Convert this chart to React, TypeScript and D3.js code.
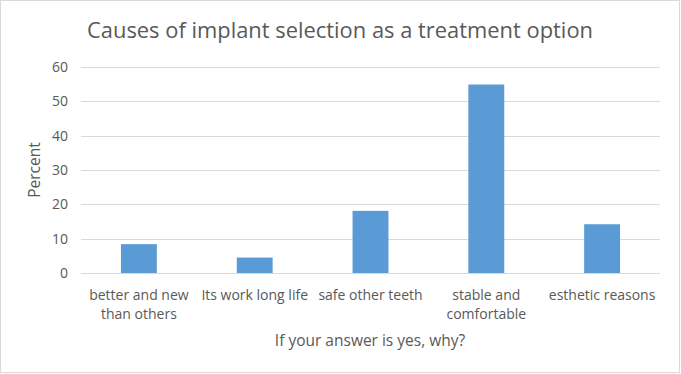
import { useEffect, useRef } from "react";
import * as d3 from "d3";

// values
const categories: string[][] = [
  ["better and new", "than others"],
  ["Its work long life"],
  ["safe other teeth"],
  ["stable and", "comfortable"],
  ["esthetic reasons"],
];
const percents: number[] = [8.4, 4.5, 18.1, 54.9, 14.2];
const yTicks: number[] = [0, 10, 20, 30, 40, 50, 60];

const title = "Causes of implant selection as a treatment option";
const xTitle = "If your answer is yes, why?";
const yTitle = "Percent";

const W = 681;
const H = 374;
const FONT = "'Open Sans', sans-serif";
const TEXT = "#595959";

export default function App() {
  const ref = useRef<SVGSVGElement>(null);

  useEffect(() => {
    const svg = d3.select(ref.current);
    svg.selectAll("*").remove();

    const margin = { top: 67, right: 21, bottom: 101, left: 81 };
    const width = W - margin.left - margin.right;
    const height = H - margin.top - margin.bottom;

    // outer chart border
    svg
      .append("rect")
      .attr("x", 0.5)
      .attr("y", 0.5)
      .attr("width", W - 2)
      .attr("height", H - 2)
      .attr("fill", "#fff")
      .attr("stroke", "#d9d9d9");

    svg
      .append("text")
      .attr("x", 340)
      .attr("y", 38)
      .attr("text-anchor", "middle")
      .attr("textLength", 506)
      .attr("lengthAdjust", "spacingAndGlyphs")
      .style("font-family", FONT)
      .style("font-size", "21px")
      .attr("fill", TEXT)
      .text(title);

    const g = svg
      .append("g")
      .attr("transform", "translate(" + margin.left + "," + margin.top + ")");

    const x = d3
      .scaleBand<number>()
      .domain(percents.map((_, i) => i))
      .range([0, width])
      .paddingInner(0.69)
      .paddingOuter(0.345);
    const y = d3.scaleLinear().domain([0, 60]).range([height, 0]);

    // gridlines
    g.selectAll(".grid")
      .data(yTicks)
      .enter()
      .append("line")
      .attr("x1", 0)
      .attr("x2", width)
      .attr("y1", (d) => Math.round(y(d)) + 0.5)
      .attr("y2", (d) => Math.round(y(d)) + 0.5)
      .attr("stroke", "#d9d9d9")
      .attr("stroke-width", 1);

    // y tick labels
    g.selectAll(".ytick")
      .data(yTicks)
      .enter()
      .append("text")
      .attr("x", -13)
      .attr("y", (d) => y(d))
      .attr("dy", "0.35em")
      .attr("text-anchor", "end")
      .style("font-family", FONT)
      .style("font-size", "14px")
      .attr("fill", TEXT)
      .text((d) => d);

    // bars
    g.selectAll(".bar")
      .data(percents)
      .enter()
      .append("rect")
      .attr("x", (_, i) => x(i)!)
      .attr("y", (d) => y(d))
      .attr("width", x.bandwidth())
      .attr("height", (d) => height - y(d))
      .attr("fill", "#5b9bd5");

    // category labels
    const lbl = g
      .selectAll(".xlabel")
      .data(categories)
      .enter()
      .append("text")
      .attr("text-anchor", "middle")
      .style("font-family", FONT)
      .style("font-size", "14px")
      .attr("fill", TEXT)
      .attr(
        "transform",
        (_, i) => "translate(" + (x(i)! + x.bandwidth() / 2) + "," + (height + 27) + ")"
      );
    lbl
      .selectAll("tspan")
      .data((d) => d)
      .enter()
      .append("tspan")
      .attr("x", 0)
      .attr("y", (_, j) => j * 19)
      .text((d) => d);

    // axis titles
    svg
      .append("text")
      .attr("x", 370)
      .attr("y", 346)
      .attr("text-anchor", "middle")
      .style("font-family", FONT)
      .style("font-size", "15.5px")
      .attr("fill", TEXT)
      .text(xTitle);

    svg
      .append("text")
      .attr("transform", "translate(40,170)rotate(-90)")
      .attr("text-anchor", "middle")
      .style("font-family", FONT)
      .style("font-size", "15.5px")
      .attr("fill", TEXT)
      .text(yTitle);
  }, []);

  return (
    <svg
      ref={ref}
      width={W}
      height={H}
      style={{ position: "absolute", left: 0, top: 0, display: "block" }}
    />
  );
}
